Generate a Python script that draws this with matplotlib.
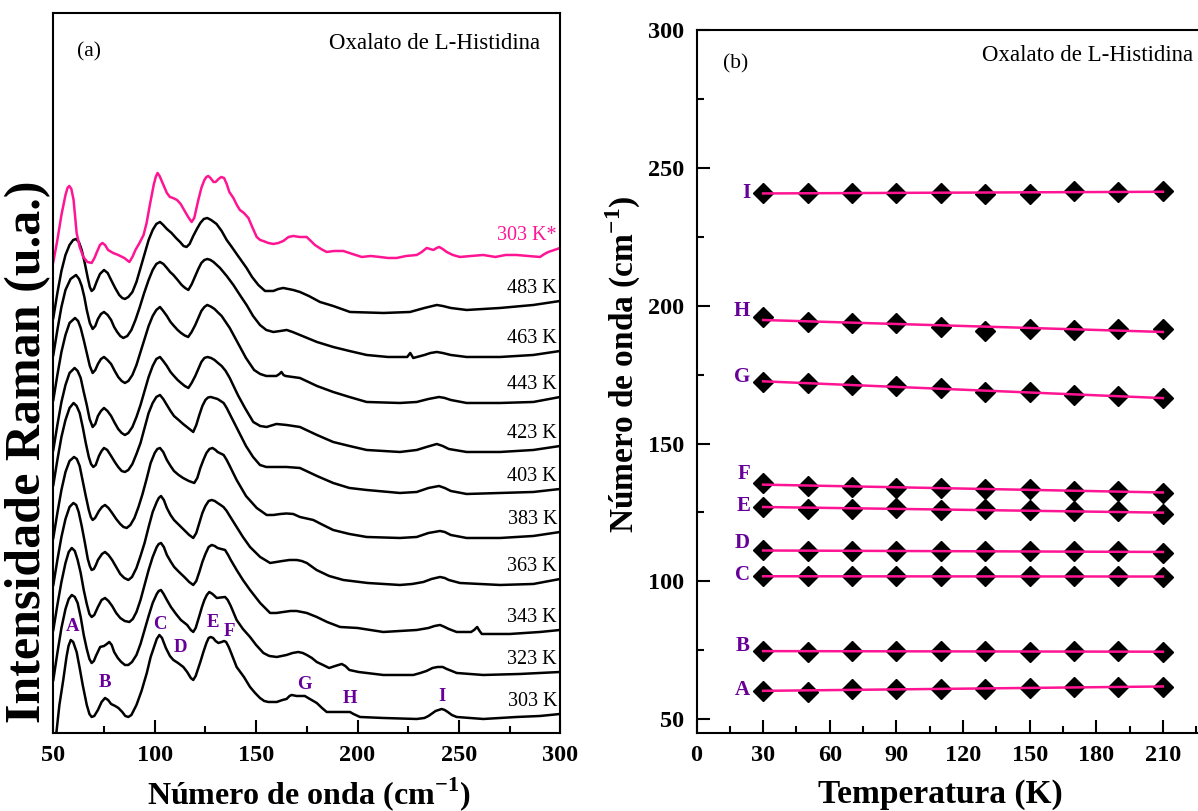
import matplotlib
matplotlib.use("Agg")
import numpy as np
import matplotlib.pyplot as plt

plt.rcParams["font.family"] = ["Liberation Serif", "DejaVu Serif"]
plt.rcParams["mathtext.fontset"] = "custom"
plt.rcParams["mathtext.rm"] = "Liberation Serif"
plt.rcParams["mathtext.bf"] = "Liberation Serif:bold"

PINK = "#ff1493"
PURPLE = "#660099"

# ---------------------------------------------------------------------------
# (a) Raman spectra, stacked (wavenumber in cm-1, intensity in arbitrary units)
# ---------------------------------------------------------------------------
wn_303 = [51.5, 53, 54.9, 56.5, 57.5, 58.6, 59.8, 61.5, 63, 64.5, 66.5, 67.8, 68.9, 70.2, 72,
          73.8, 75.5, 77, 78.5, 80.5, 82.1, 84, 85.5, 87, 88.5, 91, 93.5, 96.1, 98, 99.5, 101,
          102.3, 103.6, 105.5, 107.5, 109.2, 111.5, 114.1, 116, 117.8, 119, 120.2, 122.5, 124,
          125.5, 126.6, 127.6, 128.8, 130, 131.4, 133, 134.2, 135.2, 136.5, 137.5, 140.4, 144,
          147, 149.5, 151.9, 154, 156, 160.2, 163, 165, 166.5, 167.5, 170, 172, 174, 176.5,
          179.9, 182.5, 184.8, 190, 196.3, 198, 201.2, 212.7, 229.2, 233, 235, 238.5, 241.5,
          243, 244.5, 246.5, 248.9, 262, 278.5, 290, 299.9]
int_303 = [0, 28, 53, 76, 87, 93, 91, 81, 65, 48, 28, 19, 16, 17, 23,
           31, 35, 33, 29, 27, 25, 21, 17, 16, 18, 28, 42, 60, 76, 85, 94,
           98, 95, 85, 77, 73, 70, 66, 61, 55, 53, 57, 71, 81,
           90, 95, 96, 95, 92, 90, 91, 92, 91, 86, 81, 66, 56,
           46, 40, 35, 32, 31, 31, 33, 34, 37, 38, 37, 37, 37, 34,
           30, 25, 21, 21, 21, 19, 16, 15, 14, 15, 17, 22, 24,
           23, 21, 18, 16, 14, 16, 17, 19]

wn_323 = [50, 52, 54, 56, 57.6, 59.1, 60.6, 62, 63.5, 65, 66.5, 67.8, 68.9, 70, 71, 73.1, 75,
          76.4, 77.6, 78.8, 80, 81.8, 83.5, 85.3, 87, 88.8, 91, 93, 95, 97, 99, 101, 102, 103.1,
          104.4, 106, 108, 110.5, 112.9, 116, 117.8, 119, 120.2, 122, 123.3, 124.5, 125.7,
          126.9, 128.5, 130.6, 132.6, 134.7, 136, 137.5, 140.4, 143.5, 147, 150, 153.6, 156.5,
          160.2, 165, 168, 170.8, 173, 175, 177.5, 179.9, 183, 186, 189, 192.2, 194, 196,
          200.5, 212.7, 227.5, 231, 234, 237, 239.5, 242, 244, 246.5, 248.9, 262, 280, 299.9]
int_323 = [53, 80, 105, 124, 134, 138, 136, 130, 116, 98, 84, 74, 70, 72, 77, 86, 87,
           89, 91, 88, 81, 75, 71, 68, 68, 71, 78, 89, 103, 117, 130, 139, 142, 143,
           139, 133, 126, 119, 113, 108, 103, 101, 105, 117, 126, 133, 138,
           141, 139, 135, 135.5, 136, 133, 127, 113, 104, 96, 88, 80, 77,
           76, 78, 80, 81, 80, 78, 75, 71, 68, 65, 67, 69, 67, 63,
           61, 58, 58, 60, 62, 65, 66, 66, 64, 62, 60, 58, 59, 61]

wn_343 = [50, 52, 54, 56, 57.6, 59.1, 60.6, 62, 63.5, 65, 66.5, 67.8, 68.9, 70.2, 72, 73.8,
          75.5, 77.2, 79, 81, 83, 85.2, 87.5, 89.2, 91, 93, 95, 97, 99, 101, 102, 103.1, 104.5,
          106, 108, 109.6, 112, 114.6, 117, 119, 120.5, 122, 123.5, 125, 126.6, 128.1, 129.6,
          131, 132.8, 134.7, 136.2, 137.5, 140.4, 143.5, 147, 152, 156.9, 160, 163.4, 167, 170,
          175, 179.9, 185, 191.4, 200, 212.7, 229.2, 235, 238, 240.7, 243, 245, 248.9, 256,
          257.5, 259, 260.2, 261.3, 275, 290, 299.9]
int_343 = [103, 128, 151, 170, 181, 185, 182, 173, 160, 143, 129, 119, 116, 118, 126, 133,
           135, 132, 127, 120, 115, 112, 111, 114, 121, 133, 148, 163, 176, 186, 189, 190, 186,
           178, 171, 166, 161, 156, 151, 148, 152, 161, 171, 179, 186, 188, 187,
           185, 184, 183, 178, 173, 163, 153, 143, 130, 120, 120, 121, 122, 122,
           120, 116, 111, 106, 105, 101, 103, 105, 107, 108, 106, 104, 101, 101,
           103, 106, 102, 99, 99, 101, 103]

wn_363 = [50, 52, 54, 56, 58, 59.9, 61.3, 62.5, 64, 65.5, 67, 68, 68.9, 70, 71, 72, 74, 75.5,
          77.2, 79, 81, 83, 85, 87, 88.8, 91, 93, 95, 97, 99, 101, 102, 103.1, 104.5, 106,
          107.8, 109.5, 112, 114.5, 117, 119, 120.5, 122, 123.5, 125, 126.6, 128.1, 129.6, 131,
          132.5, 133.9, 135.5, 137, 140.4, 143.5, 147, 152, 156.9, 160, 163, 166.5, 170, 172.5,
          175, 179.8, 186, 193, 205, 220.9, 227, 232.5, 236.5, 240.7, 243, 245, 250.5, 270.3,
          286.7, 299.9]
int_363 = [148, 173, 196, 214, 226, 230, 228, 221, 207, 191, 174, 167, 163, 164, 168, 173,
           179, 181, 178, 173, 166, 159, 155, 153, 156, 165, 177, 190, 206, 221, 231, 235, 237,
           233, 225, 218, 213, 208, 203, 198, 195, 200, 210, 220, 227, 232, 233, 232, 230,
           228, 226, 222, 217, 206, 196, 186, 176, 170, 171, 172, 173, 173, 172,
           170, 163, 157, 153, 150, 148, 149, 151, 154, 156, 155, 153, 150, 148,
           149, 154]

wn_383 = [50, 52, 54, 56, 58, 60.2, 61.6, 63, 64.5, 66, 67.5, 68.5, 69.4, 70.6, 72.5, 74,
          75.5, 77.2, 79, 81, 83, 84.6, 86.2, 88, 90, 92, 94, 96, 98, 100, 101.3, 102.6, 104.2,
          106, 107.8, 109.5, 111.8, 114, 116.8, 119.5, 121, 122.5, 124, 125.5, 127, 128.5, 130,
          131, 132.5, 134, 135.5, 137, 140.4, 145, 150.3, 155.2, 158.5, 162, 165, 168.3, 171.6,
          178.2, 183, 188, 196, 204.5, 220.9, 229.2, 235, 240.7, 243, 246, 253.8, 270.3,
          286.7, 299.9]
int_383 = [195, 220, 243, 261, 272, 276, 274, 267, 252, 237, 223, 216, 213, 215, 222, 226,
           228, 225, 220, 214, 209, 206, 205, 208, 215, 226, 239, 254, 270, 280, 284, 285, 281,
           273, 267, 262, 258, 255, 252, 250, 255, 265, 273, 280, 284, 285, 283,
           281, 279.5, 278, 273, 267, 253, 237, 225, 218, 218, 219, 219.5, 219, 216,
           213, 208, 203, 199, 196, 195, 196, 200, 202, 201, 198, 195, 195,
           197, 201]

wn_403 = [50, 52, 54, 56, 58, 60, 61.5, 63, 64.5, 66, 67.5, 68.6, 69.7, 70.9, 72.5, 73.8, 75,
          76.6, 78.5, 80.3, 82, 83.7, 85.3, 87, 89, 91, 93, 95, 97, 99, 100.8, 102.6, 104.2,
          106, 107.8, 109.5, 111.8, 114, 116.5, 119, 120.5, 122, 123.5, 125, 126.3, 127.6,
          129.3, 131, 132.5, 134, 135.5, 137, 140.5, 145, 148.5, 151.9, 155, 158, 165, 171.6,
          180, 188, 196, 204.5, 220.9, 229.2, 235, 240.2, 243, 246, 253.8, 270.3, 286.7, 299.9]
int_403 = [248, 273, 296, 313, 325, 330, 327, 320, 306, 290, 276, 269, 266, 268, 277, 282, 285,
           283, 277, 271, 266, 262, 261, 263, 269, 279, 290, 305, 320, 330, 336, 338, 334,
           328, 322, 317, 313, 309, 305, 301, 308, 318, 327, 333, 335.5, 336,
           335, 334, 332, 330, 325, 319, 305, 287, 276, 268, 266, 266, 266, 265,
           257, 250, 245, 243, 240, 241, 245, 247, 245, 242, 239, 240, 241, 244]

wn_423 = [50, 52, 54, 56, 58, 60.5, 62, 63.5, 65, 66.5, 67.9, 69.4, 70.7, 72, 73.5, 75, 76.7,
          78.5, 80.3, 82, 83.7, 85.3, 87, 89, 91, 93, 95, 97, 99, 100.8, 102.6, 104.2, 106,
          107.8, 109.5, 111.3, 113, 114.8, 116.6, 118.2, 120, 121.5, 123, 124.5, 126, 127.8,
          129.5, 131.2, 133, 135, 137, 141, 144.5, 148.6, 152, 155.2, 160, 165, 171.6, 180,
          188, 196, 204.5, 220.9, 229.2, 234, 239.1, 242, 245, 253.8, 270.3, 286.7, 299.9]
int_423 = [283, 308, 331, 348, 360, 365, 362, 355, 341, 328, 314, 306, 309, 317, 322, 325, 322,
           317, 310, 304, 300, 298, 300, 306, 316, 328, 342, 356, 367, 374, 376, 372, 367,
           361, 357, 353, 350, 347, 345, 350, 357, 364, 371, 375, 376, 375,
           373, 370, 367, 362, 355, 338, 325, 311, 307, 306, 309, 308, 306, 298,
           291, 287, 283, 281, 283, 286, 289, 287, 284, 281, 281, 283, 287]

wn_443 = [50, 52, 54, 56, 58, 60.7, 62.2, 63.5, 65, 66.5, 68, 69.4, 70.7, 72, 73.5, 75, 76.7,
          78.5, 80.3, 82, 83.7, 85.3, 87, 89, 91, 93, 95, 97, 99, 100.8, 102.6, 104.2, 106,
          107.8, 109.5, 111.3, 113, 114.8, 116.5, 118.2, 120, 121.5, 123, 124.5, 125.9, 127.6,
          129.5, 131.2, 133, 135, 137, 141, 145, 149, 152, 155, 160, 161.5, 162.5, 163.5, 164.5,
          171.6, 180, 188, 196, 204.5, 220.9, 229.2, 235, 240.2, 243, 246, 253.8, 270.3, 286.7,
          299.9]
int_443 = [333, 358, 381, 398, 410, 415, 412, 405, 393, 380, 367, 360, 363, 369, 374, 376, 373,
           369, 362, 356, 352, 350, 352, 358, 368, 381, 394, 407, 417, 423, 426, 422, 417,
           411, 407, 403, 400, 397.5, 396, 401, 408, 415, 422, 426, 428, 426.5,
           424, 420.5, 417, 411, 405, 390, 375, 363, 359, 357, 357, 359, 361, 358, 357,
           355, 347, 341, 336, 331, 330, 331, 334, 336, 335, 333, 330, 330, 331,
           336]

wn_463 = [50, 52, 54, 56, 58.5, 61.2, 62.7, 64, 65.3, 66.5, 68, 69.4, 70.7, 72, 73.5, 75, 76.8,
          78.5, 80, 81.5, 83, 84.5, 86.5, 88.5, 90.5, 92.5, 94.8, 97, 99, 100.8, 102.6, 104.3,
          106, 107.6, 109.2, 111.3, 113.3, 115, 116.6, 118.3, 120, 121.5, 123, 124.5, 126,
          127.5, 129, 130.6, 132.2, 135.5, 138.8, 142, 145.3, 148.5, 151.9, 155, 158.5, 162,
          165.1, 168, 171.6, 180, 188, 196, 204.5, 215, 224.5, 226, 227.5, 233, 236, 239.1, 242,
          246, 253.8, 270.3, 286.7, 299.9]
int_463 = [378, 403, 426, 443, 454, 458, 454, 447, 436, 423, 410, 404, 407, 414, 419, 421, 418,
           413, 406, 401, 397, 395, 397, 403, 413, 425, 440, 453, 463, 469, 471, 469,
           465, 461, 458, 453, 448, 445, 443, 449, 457, 464, 470, 473, 474,
           473, 471, 468, 465, 457, 448, 438, 428, 417, 408, 403, 401, 402,
           403, 401, 398, 391, 386, 382, 378, 376, 376, 380, 375, 378, 380, 381, 380,
           378, 376, 376, 378, 382]

wn_483 = [50, 52, 54, 56, 58, 59.8, 61.2, 62.6, 64, 65.5, 67, 68, 68.9, 70, 71.5, 73, 75, 76.8,
          78.5, 80.5, 82.5, 84, 85.3, 87, 89, 91, 93, 95, 97, 99, 100.8, 102.6, 104.2, 106,
          108.3, 110.5, 112.5, 114.2, 115.7, 117.2, 119, 120.8, 122.5, 124.2, 125.9, 127.8,
          130.5, 133, 135.5, 138, 140.4, 145.3, 148, 151.1, 154.4, 158.5, 161, 163.4, 168.3,
          171.6, 176, 181.5, 188, 196.3, 212.8, 225.9, 233, 239.1, 242, 246, 253.8, 270.3,
          286.7, 299.9]
int_483 = [415, 440, 462, 478, 488, 493, 494, 491, 483, 470, 455, 446, 442, 444, 452, 459, 463,
           460, 453, 445, 438, 435, 434, 436, 441, 451, 465, 479, 493, 503, 509, 511, 508,
           504, 500, 495, 491, 487, 486, 489, 497, 504, 510, 514, 515, 513,
           509, 502, 493, 486, 479, 465, 456, 448, 442, 442, 444, 445, 443,
           441, 437, 431, 427, 421, 420, 421, 425, 428, 427, 425, 423, 425,
           428, 432]

# room temperature after the heating cycle
wn_303r = [50, 52, 54, 56, 57, 57.9, 58.9, 60, 61.5, 63, 64.8, 66.8, 68.9, 70.3, 71.5, 73,
           74.2, 75.5, 77, 79.5, 82, 85, 87.5, 89, 90.5, 92.5, 94.5, 96, 97.6, 99.5, 100.5,
           101.4, 102.4, 104.3, 106, 107.5, 109, 111, 112.8, 114.5, 116.5, 118.2, 119.5, 121.5,
           123, 124.5, 125.5, 126.4, 127.5, 129, 130, 131.5, 132.8, 134.2, 135.5, 136.8, 138.8,
           140.5, 142, 144, 146.2, 148.3, 150.3, 152, 153.5, 156, 158.5, 161, 163.4, 166,
           168.3, 171.5, 174.9, 177, 179, 182, 184.8, 188.5, 193, 197.5, 202.1, 206.5, 211.1,
           215, 219.3, 224, 229.2, 231.7, 234.1, 235.8, 237.4, 239, 240.3, 242, 244, 247,
           250.5, 256, 262, 268, 273, 278.5, 284, 290, 292.2, 294.1, 297, 299.9]
int_303r = [471, 493, 518, 538, 545, 547, 544, 533, 500, 486, 476, 471, 470, 475, 481, 488,
            490, 488, 483, 480, 478, 475, 471, 476, 483, 490, 498, 510, 528, 548, 556,
            560, 557, 548, 540, 536, 535, 533, 529, 523, 516, 511, 515, 533,
            545, 553, 556, 557, 555, 551, 551, 554, 556, 555, 549, 541, 535,
            528, 523, 520, 515, 505, 496, 493, 492, 490, 489, 490, 492, 496,
            497, 496, 496, 492, 488, 484, 481, 482, 482, 479, 476, 477, 476,
            475, 475, 477, 478, 481, 485, 484, 483, 485, 486, 484, 481, 478,
            476, 477, 478, 476, 478, 478, 477, 476, 479, 481, 483, 485]

spectra = [
    ("303 K", wn_303, int_303, "black"),
    ("323 K", wn_323, int_323, "black"),
    ("343 K", wn_343, int_343, "black"),
    ("363 K", wn_363, int_363, "black"),
    ("383 K", wn_383, int_383, "black"),
    ("403 K", wn_403, int_403, "black"),
    ("423 K", wn_423, int_423, "black"),
    ("443 K", wn_443, int_443, "black"),
    ("463 K", wn_463, int_463, "black"),
    ("483 K", wn_483, int_483, "black"),
    ("303 K*", wn_303r, int_303r, PINK),
]

# ---------------------------------------------------------------------------
# (b) Mode wavenumbers versus temperature
# ---------------------------------------------------------------------------
temperature = [30, 50, 70, 90, 110, 130, 150, 170, 190, 210]
mode_A = [60.3, 60.0, 61.0, 61.0, 61.0, 61.0, 61.4, 61.7, 61.7, 61.7]
mode_B = [74.8, 74.4, 74.7, 74.8, 74.6, 74.6, 74.4, 74.6, 74.6, 74.4]
mode_C = [101.9, 101.8, 101.8, 101.8, 101.8, 101.8, 101.8, 101.8, 101.8, 101.7]
mode_D = [111.3, 111.1, 110.9, 111.0, 110.9, 110.9, 110.9, 111.1, 110.9, 110.3]
mode_E = [127.0, 126.4, 126.4, 126.7, 125.8, 126.1, 125.8, 125.5, 125.5, 124.3]
mode_F = [135.5, 134.6, 134.1, 134.0, 133.8, 133.4, 133.5, 132.9, 132.9, 131.9]
mode_G = [172.4, 171.8, 171.2, 170.8, 170.2, 168.8, 168.8, 167.6, 167.2, 166.4]
mode_H = [196.0, 194.2, 193.6, 193.6, 192.4, 190.9, 191.5, 191.2, 191.6, 191.4]
mode_I = [241.0, 240.8, 240.8, 241.0, 241.0, 240.5, 240.5, 241.7, 241.4, 241.5]

modes = [("A", mode_A), ("B", mode_B), ("C", mode_C), ("D", mode_D), ("E", mode_E),
         ("F", mode_F), ("G", mode_G), ("H", mode_H), ("I", mode_I)]

# ---------------------------------------------------------------------------
fig = plt.figure(figsize=(11.98, 8.11), dpi=100)
ax1 = fig.add_axes([0.0445, 0.0962, 0.4232, 0.8878])
ax2 = fig.add_axes([0.5814, 0.0962, 0.4449, 0.8668])

# ----- panel (a)
for label, wn, inten, color in spectra:
    ax1.plot(wn, inten, color=color, lw=1.8, solid_joinstyle="round")
    ax1.text(298.4, inten[-1] + 12, label, ha="right", va="center",
             fontsize=14.5, color=color)

peak_marks_a = [("A", 59.6, 106), ("B", 75.5, 50), ("C", 102.6, 108), ("D", 112.8, 85),
                ("E", 128.9, 110), ("F", 137.1, 101), ("G", 173.6, 48), ("H", 196.3, 34),
                ("I", 241.9, 36)]
for letter, xp, yp in peak_marks_a:
    ax1.text(xp, yp, letter, ha="center", va="center", fontsize=13.5,
             fontweight="bold", color=PURPLE)

ax1.set_xlim(50, 300)
ax1.set_ylim(0, 720)
ax1.set_yticks([])
ax1.set_xticks([50, 100, 150, 200, 250, 300])
ax1.set_xticklabels(["50", "100", "150", "200", "250", "300"], fontweight="bold")
ax1.set_xticks([75, 125, 175, 225, 275], minor=True)
ax1.tick_params(axis="x", which="major", direction="in", length=9.5, width=1.5,
                labelsize=17.5, pad=9)
ax1.tick_params(axis="x", which="minor", direction="in", length=5, width=1.5)
for sp in ax1.spines.values():
    sp.set_linewidth(1.5)
ax1.text(0.046, 0.946, "(a)", transform=ax1.transAxes, fontsize=15.5,
         ha="left", va="center")
ax1.text(0.96, 0.958, "Oxalato de L-Histidina", transform=ax1.transAxes,
         fontsize=16.5, ha="right", va="center")
ax1.set_xlabel(r"Número de onda (cm$^{\mathbf{-1}}$)", fontsize=23, fontweight="bold")
ax1.xaxis.set_label_coords(0.504, -0.058)
ax1.set_ylabel("Intensidade Raman (u.a.)", fontsize=36, fontweight="bold")
ax1.yaxis.set_label_coords(-0.004, 0.39)

# ----- panel (b)
label_offset = {"A": 0.2, "B": 1.7, "C": 0.5, "D": 2.6, "E": 0.3, "F": 3.4,
                "G": 1.7, "H": 2.0, "I": 0.0}
for letter, values in modes:
    ax2.plot(temperature, values, linestyle="none", marker="D", ms=10,
             color="black", zorder=3)
    slope, intercept = np.polyfit(temperature, values, 1)
    t_fit = np.array([temperature[0], temperature[-1]])
    ax2.plot(t_fit, slope * t_fit + intercept, color=PINK, lw=1.8, zorder=4)
    ax2.text(24.1, values[0] + label_offset[letter], letter, ha="right", va="center",
             fontsize=15, fontweight="bold", color=PURPLE)

ax2.set_xlim(0, 240)
ax2.set_ylim(45, 300)
ax2.set_xticks([0, 30, 60, 90, 120, 150, 180, 210])
ax2.set_xticklabels(["0", "30", "60", "90", "120", "150", "180", "210"], fontweight="bold")
ax2.set_xticks([15, 45, 75, 105, 135, 165, 195, 225], minor=True)
ax2.set_yticks([50, 100, 150, 200, 250, 300])
ax2.set_yticklabels(["50", "100", "150", "200", "250", "300"], fontweight="bold")
ax2.set_yticks([75, 125, 175, 225, 275], minor=True)
ax2.tick_params(axis="both", which="major", direction="in", length=9.5, width=1.5,
                labelsize=17.5, pad=9)
ax2.tick_params(axis="both", which="minor", direction="in", length=5, width=1.5)
for sp in ax2.spines.values():
    sp.set_linewidth(1.5)
ax2.text(11.7, 287.7, "(b)", fontsize=15.5, ha="left", va="center")
ax2.text(223.6, 290.9, "Oxalato de L-Histidina", fontsize=16.5, ha="right", va="center")
ax2.set_xlabel("Temperatura (K)", fontsize=24, fontweight="bold")
ax2.xaxis.set_label_coords(0.458, -0.065)
ax2.set_ylabel(r"Número de onda (cm$^{\mathbf{-1}}$)", fontsize=24, fontweight="bold")
ax2.yaxis.set_label_coords(-0.1, 0.525)

fig.savefig("out.png", dpi=100)
